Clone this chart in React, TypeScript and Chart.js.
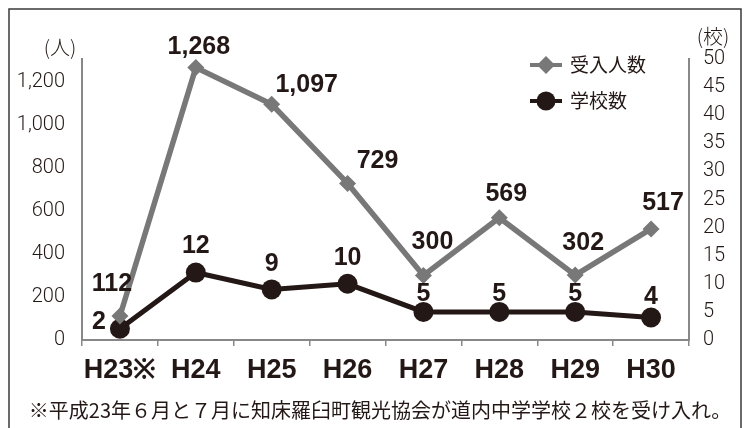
import React, { useEffect, useRef } from "react";
import { Chart, registerables } from "chart.js";

Chart.register(...registerables);

const categories = ["H23※", "H24", "H25", "H26", "H27", "H28", "H29", "H30"];
const visitors = [112, 1268, 1097, 729, 300, 569, 302, 517];
const schools = [2, 12, 9, 10, 5, 5, 5, 4];
const visitorLabels = ["112", "1,268", "1,097", "729", "300", "569", "302", "517"];
const schoolLabels = ["2", "12", "9", "10", "5", "5", "5", "4"];
const seriesNames = ["受入人数", "学校数"];
const leftUnit = "(人)";
const rightUnit = "(校)";
const footnote = "※平成23年６月と７月に知床羅臼町観光協会が道内中学学校２校を受け入れ。";

const GRAY = "#787878";
const DARK = "#231815";
const FONT = "'Liberation Sans', Arial, sans-serif";
const LIGHT = "Roboto, 'Liberation Sans', sans-serif";
const JP = "'Noto Sans CJK JP', sans-serif";

// label offsets relative to point (style only)
const visOffsets: [number, number][] = [
  [-8, -32], [3, -20], [35, -19], [30, -22], [9, -33], [7, -24], [8, -32], [12, -26],
];
const schOffsets: [number, number][] = [
  [-21, -7], [0, -26], [0, -25], [0, -26], [0, -18], [0, -18], [0, -18], [0, -20],
];

const overlay = {
  id: "overlay",
  afterDatasetsDraw(chart: any) {
    const ctx = chart.ctx;
    ctx.save();
    ctx.fillStyle = DARK;
    ctx.textAlign = "center";
    ctx.textBaseline = "middle";
    ctx.font = `bold 25px ${FONT}`;
    const m0 = chart.getDatasetMeta(0);
    const m1 = chart.getDatasetMeta(1);
    m0.data.forEach((pt: any, i: number) => {
      ctx.fillText(visitorLabels[i], pt.x + visOffsets[i][0], pt.y + visOffsets[i][1]);
    });
    m1.data.forEach((pt: any, i: number) => {
      ctx.fillText(schoolLabels[i], pt.x + schOffsets[i][0], pt.y + schOffsets[i][1]);
    });
    ctx.restore();
  },
  afterDraw(chart: any) {
    const ctx = chart.ctx;
    ctx.save();
    // outer frame
    ctx.strokeStyle = "#3a3a3a";
    ctx.lineWidth = 1.5;
    ctx.beginPath();
    ctx.moveTo(9, 440);
    ctx.lineTo(9, 9);
    ctx.lineTo(741, 9);
    ctx.lineTo(741, 440);
    ctx.stroke();
    // unit labels
    ctx.fillStyle = DARK;
    ctx.font = `300 20px ${JP}`;
    ctx.textAlign = "center";
    ctx.textBaseline = "middle";
    ctx.fillText(leftUnit, 60, 47);
    ctx.fillText(rightUnit, 713, 36);
    // legend
    const lx = 530;
    const ys = [65, 101];
    ys.forEach((y, i) => {
      ctx.strokeStyle = i === 0 ? GRAY : DARK;
      ctx.fillStyle = i === 0 ? GRAY : DARK;
      ctx.lineWidth = 4;
      ctx.beginPath();
      ctx.moveTo(lx, y);
      ctx.lineTo(lx + 32, y);
      ctx.stroke();
      ctx.beginPath();
      if (i === 0) {
        ctx.moveTo(lx + 16, y - 9);
        ctx.lineTo(lx + 25, y);
        ctx.lineTo(lx + 16, y + 9);
        ctx.lineTo(lx + 7, y);
        ctx.closePath();
      } else {
        ctx.arc(lx + 16, y, 9.5, 0, Math.PI * 2);
      }
      ctx.fill();
      ctx.fillStyle = DARK;
      ctx.font = `19px ${JP}`;
      ctx.textAlign = "left";
      ctx.fillText(seriesNames[i], lx + 40, y);
    });
    // footnote
    ctx.font = `20px ${JP}`;
    ctx.textAlign = "center";
    ctx.fillText(footnote, 380, 410);
    ctx.restore();
  },
};

export default function App() {
  const ref = useRef<HTMLCanvasElement>(null);
  useEffect(() => {
    const chart = new Chart(ref.current!, {
      type: "line",
      data: {
        labels: categories,
        datasets: [
          {
            label: seriesNames[0],
            data: visitors,
            yAxisID: "y",
            borderColor: GRAY,
            backgroundColor: GRAY,
            borderWidth: 5.5,
            pointStyle: "rectRot",
            pointRadius: 8.5,
            pointBorderWidth: 0,
            tension: 0,
          },
          {
            label: seriesNames[1],
            data: schools,
            yAxisID: "y1",
            borderColor: DARK,
            backgroundColor: DARK,
            borderWidth: 5,
            pointStyle: "circle",
            pointRadius: 10,
            pointBorderWidth: 0,
            tension: 0,
          },
        ],
      },
      options: {
        responsive: false,
        animation: false,
        layout: { padding: { top: 59, bottom: 0, left: 0, right: 0 } },
        plugins: { legend: { display: false }, tooltip: { enabled: false } },
        scales: {
          x: {
            offset: true,
            grid: {
              offset: true,
              drawOnChartArea: false,
              drawTicks: true,
              tickLength: 6,
              color: "#888",
              lineWidth: 1.5,
            },
            border: { color: "#888", width: 2 },
            ticks: {
              color: DARK,
              font: { family: FONT, size: 27, weight: "bold" },
              padding: 8,
              maxRotation: 0,
              autoSkip: false,
            },
            afterFit(scale: any) {
              scale.height = 88;
            },
          },
          y: {
            position: "left",
            min: 0,
            max: 1308,
            grid: { display: false },
            border: { color: "#888", width: 2 },
            ticks: {
              stepSize: 200,
              includeBounds: false,
              color: DARK,
              font: { family: LIGHT, size: 20, weight: "300" },
              padding: 9,
              callback: (v: any) => Number(v).toLocaleString("en-US"),
            },
            afterFit(scale: any) {
              scale.width = 82;
            },
          },
          y1: {
            position: "right",
            min: 0,
            max: 50,
            grid: { display: false },
            border: { color: "#888", width: 2 },
            ticks: {
              stepSize: 5,
              color: DARK,
              font: { family: LIGHT, size: 20, weight: "300" },
              padding: 6,
            },
            afterFit(scale: any) {
              scale.width = 61;
            },
          },
        },
      },
      plugins: [overlay],
    } as any);
    return () => chart.destroy();
  }, []);
  return (
    <canvas
      ref={ref}
      width={750}
      height={428}
      style={{ position: "absolute", left: 0, top: 0, width: 750, height: 428 }}
    />
  );
}
